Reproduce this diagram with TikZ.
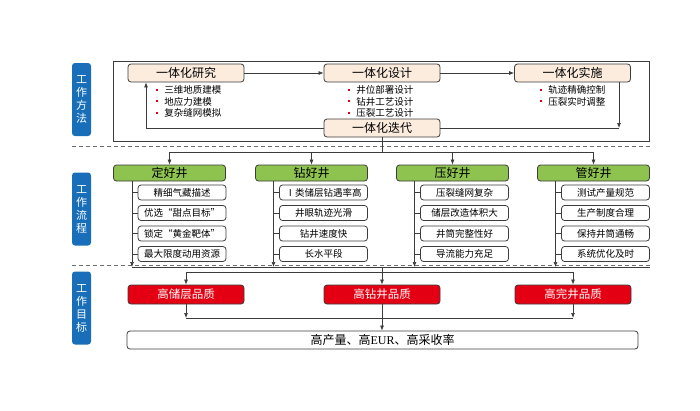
\documentclass[tikz,border=0pt]{standalone}
\usepackage{fontspec}
\setmainfont{Noto Sans CJK SC}
\newfontfamily\lser{Liberation Serif}
\usetikzlibrary{arrows.meta,calc}
\definecolor{lc}{RGB}{60,60,60}
\definecolor{peach}{RGB}{252,236,222}
\definecolor{gfill}{RGB}{142,195,80}
\definecolor{rfill}{RGB}{228,0,18}
\definecolor{bfill}{RGB}{24,110,184}
\definecolor{bred}{RGB}{220,0,20}
\definecolor{dgray}{RGB}{110,110,110}
\newcommand{\fs}[2]{\fontsize{#1}{#2}\selectfont}
\tikzset{
  hbox/.style={draw=lc, fill=peach, rounded corners=3pt, minimum width=116pt, minimum height=18pt, inner sep=0pt, font=\fs{12}{14}, line width=0.8pt},
  gbox/.style={draw=lc, fill=gfill, rounded corners=3pt, minimum width=112pt, minimum height=16pt, inner sep=0pt, font=\fs{12}{14}, line width=0.8pt},
  sbox/.style={draw=lc, fill=white, rounded corners=3pt, minimum width=88pt, minimum height=15pt, inner sep=0pt, font=\fs{9.5}{11}, line width=0.8pt},
  rbox/.style={draw=lc, fill=rfill, text=white, rounded corners=3pt, minimum width=116pt, minimum height=19pt, inner sep=0pt, font=\fs{11.5}{13}, line width=0.8pt},
  fbox/.style={draw=lc, fill=white, rounded corners=3pt, minimum width=511pt, minimum height=18pt, inner sep=0pt, font=\fs{12}{14}, line width=0.8pt},
  labbox/.style={fill=bfill, text=white, rounded corners=3pt, minimum width=19pt, minimum height=73pt, inner sep=0pt, align=center, font=\fs{11}{13}},
  arr/.style={-{Latex[length=5pt,width=4pt]}, draw=lc, line width=0.7pt},
  ln/.style={draw=lc, line width=0.7pt},
  dsh/.style={draw=dgray, dash pattern=on 4pt off 3pt, line width=0.8pt},
  bul/.style={anchor=west, inner sep=0pt, font=\fs{9.5}{11}},
  frame/.style={draw=lc, line width=0.8pt, minimum width=536pt, minimum height=80pt, inner sep=0pt}
}
\newcommand{\bu}{\textcolor{bred}{\rule[0.3em]{2.2pt}{2.2pt}}\hspace{6pt}}
\begin{document}
\begin{tikzpicture}[x=1pt,y=-1pt]
\useasboundingbox (0,0) rectangle (700,410);
% labels
\node[labbox] (la) at (81.5,99.5) {工\\作\\方\\法};
\node[labbox] (lb) at (81.5,209) {工\\作\\流\\程};
\node[labbox] (lcn) at (81.5,308) {工\\作\\目\\标};
% frame
\node[frame] (fr) at (381,101) {};
% top row
\node[hbox] (t1) at (186,73) {一体化研究};
\node[hbox] (t2) at (382,73) {一体化设计};
\node[hbox] (t3) at (572.5,73) {一体化实施};
\node[hbox] (t4) at (382,128) {一体化迭代};
% bullets
\node[bul] (b1) at (156,90) {\bu 三维地质建模};
\node[bul] (b2) at (156,101.5) {\bu 地应力建模};
\node[bul] (b3) at (156,113) {\bu 复杂缝网模拟};
\node[bul] (b4) at (348,90) {\bu 井位部署设计};
\node[bul] (b5) at (348,101.5) {\bu 钻井工艺设计};
\node[bul] (b6) at (348,113) {\bu 压裂工艺设计};
\node[bul] (b7) at (540,90) {\bu 轨迹精确控制};
\node[bul] (b8) at (540,101.5) {\bu 压裂实时调整};
% top arrows
\coordinate (c1) at (619,128);
\coordinate (c2) at (146,0);
\draw[arr] (t1) -- (t2);
\draw[arr] (t2) -- (t3);
\draw[arr] (t3.south -| c1) -- (c1);
\draw[ln] (t4.east) -- (c1);
\draw[arr] (t4.west) -| (c2 |- t1.south);
% dashed separators
\draw[dsh] (72,146) -- (650,146);
\draw[dsh] (72,265) -- (650,265);
% green
\node[gbox] (g1) at (169.5,173) {定好井};
\node[gbox] (g2) at (311.5,173) {钻好井};
\node[gbox] (g3) at (452.5,173) {压好井};
\node[gbox] (g4) at (593.5,173) {管好井};
\coordinate (h1) at (0,152);
\draw[ln] (t4.south) -- (t4.south |- h1);
\draw[ln] (g1.north |- h1) -- (g4.north |- h1);
\foreach \g in {g1,g2,g3,g4} \draw[arr] (\g.north |- h1) -- (\g.north);
% sub boxes
\node[sbox] (s11) at (182,192.5) {精细气藏描述};
\node[sbox] (s12) at (182,213) {优选“甜点目标”};
\node[sbox] (s13) at (182,233.5) {锁定“黄金靶体”};
\node[sbox] (s14) at (182,254) {最大限度动用资源};
\node[sbox] (s21) at (323.5,192.5) {Ⅰ类储层钻遇率高};
\node[sbox] (s22) at (323.5,213) {井眼轨迹光滑};
\node[sbox] (s23) at (323.5,233.5) {钻井速度快};
\node[sbox] (s24) at (323.5,254) {长水平段};
\node[sbox] (s31) at (464.5,192.5) {压裂缝网复杂};
\node[sbox] (s32) at (464.5,213) {储层改造体积大};
\node[sbox] (s33) at (464.5,233.5) {井筒完整性好};
\node[sbox] (s34) at (464.5,254) {导流能力充足};
\node[sbox] (s41) at (605.5,192.5) {测试产量规范};
\node[sbox] (s42) at (605.5,213) {生产制度合理};
\node[sbox] (s43) at (605.5,233.5) {保持井筒通畅};
\node[sbox] (s44) at (605.5,254) {系统优化及时};
% lanes
\coordinate (L1) at (132,267);
\coordinate (L2) at (273.5,267);
\coordinate (L3) at (414.5,267);
\coordinate (L4) at (555.5,267);
\coordinate (br) at (649.5,267);
\foreach \i in {1,2,3,4} {
  \draw[arr] (g\i.south -| L\i) -- (L\i);
  \foreach \j in {1,2,3,4} \draw[ln] (s\i\j.west) -- (s\i\j.west -| L\i);
}
\draw[ln] (L1) -- (br);
% red
\node[rbox] (r1) at (186,294.5) {高储层品质};
\node[rbox] (r2) at (382,294.5) {高钻井品质};
\node[rbox] (r3) at (573,294.5) {高完井品质};
\coordinate (h2) at (0,272);
\draw[arr] (r2.north |- L1) -- (r2.north);
\draw[ln] (r1.north |- h2) -- (r3.north |- h2);
\draw[arr] (r1.north |- h2) -- (r1.north);
\draw[arr] (r3.north |- h2) -- (r3.north);
% final
\node[fbox] (fin) at (382.5,340) {高产量、高{\lser EUR}、高采收率};
\coordinate (h3) at (0,318);
\draw[arr] (r1.south) -- (r1.south |- h3);
\draw[arr] (r3.south) -- (r3.south |- h3);
\draw[ln] (r1.south |- h3) -- (r3.south |- h3);
\draw[arr] (r2.south) -- (r2.south |- fin.north);
\end{tikzpicture}
\end{document}
